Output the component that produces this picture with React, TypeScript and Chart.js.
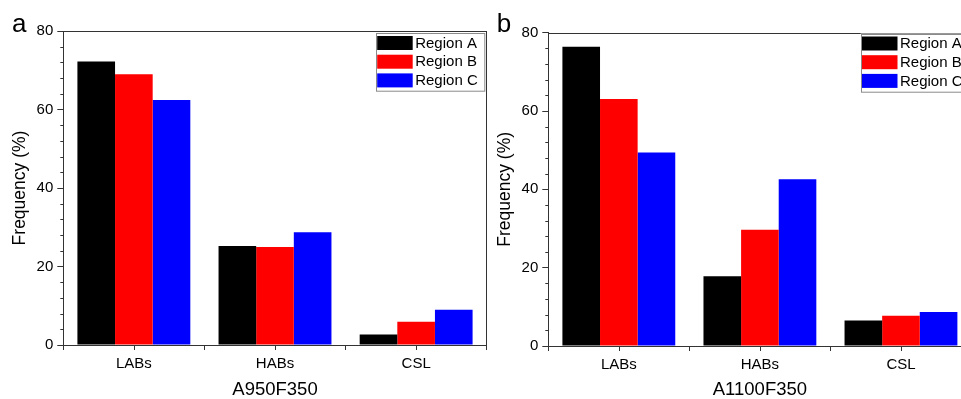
import React, { useEffect, useRef } from 'react';
import { Chart, registerables } from 'chart.js';

Chart.register(...registerables);

const FONT = '"Liberation Sans", Arial, Helvetica, sans-serif';
const AXIS = '#333333';

const categories = ['LABs', 'HABs', 'CSL'];
const seriesNames = ['Region A', 'Region B', 'Region C'];
const seriesColors = ['#000000', '#ff0000', '#0000ff'];

// Panel a: A950F350
const a950RegionA = [72.2, 25.2, 2.7];
const a950RegionB = [69.0, 25.0, 5.9];
const a950RegionC = [62.4, 28.7, 9.0];

// Panel b: A1100F350
const a1100RegionA = [76.4, 17.8, 6.5];
const a1100RegionB = [63.1, 29.7, 7.7];
const a1100RegionC = [49.4, 42.6, 8.7];

const yMin = 0;
const yMax = 80;
const yMajorStep = 20;
const yMinorStep = 4;
const yTitle = 'Frequency (%)';

Chart.defaults.font.family = FONT;

const decorPlugin = {
  id: 'decor',
  afterDraw(chart: any, _args: any, opts: any) {
    const { ctx, chartArea: ca, scales } = chart;
    const y = scales.y;
    const x = scales.x;
    ctx.save();
    ctx.strokeStyle = AXIS;
    ctx.lineWidth = 1;
    ctx.beginPath();
    // frame top & right
    ctx.moveTo(ca.left, Math.round(ca.top) + 0.5);
    ctx.lineTo(ca.right, Math.round(ca.top) + 0.5);
    ctx.moveTo(Math.round(ca.right) - 0.5, ca.top);
    ctx.lineTo(Math.round(ca.right) - 0.5, ca.bottom);
    // minor y ticks
    for (let v = yMin; v <= yMax; v += yMinorStep) {
      if (v % yMajorStep === 0) continue;
      const py = Math.round(y.getPixelForValue(v)) + 0.5;
      ctx.moveTo(ca.left - 3, py);
      ctx.lineTo(ca.left, py);
    }
    // x ticks at category centres
    chart.data.labels.forEach((_l: any, i: number) => {
      const px = Math.round(x.getPixelForValue(i)) + 0.5;
      ctx.moveTo(px, ca.bottom);
      ctx.lineTo(px, ca.bottom + 5);
    });
    ctx.stroke();

    // legend inside the plot area, top right
    const boxW = 108.3;
    const boxH = 57.7;
    const bx = ca.right - 2.7 - boxW;
    const by = ca.top + opts.legendTop;
    ctx.fillStyle = '#ffffff';
    ctx.fillRect(bx, by, boxW, boxH);
    ctx.strokeStyle = '#8a8a8a';
    ctx.strokeRect(Math.round(bx) + 0.5, Math.round(by) + 0.5, boxW, boxH);
    ctx.font = '15px ' + FONT;
    ctx.textBaseline = 'middle';
    ctx.textAlign = 'left';
    chart.data.datasets.forEach((ds: any, i: number) => {
      const sy = by + 3 + i * 18.7;
      ctx.fillStyle = ds.backgroundColor;
      ctx.fillRect(bx + 1.5, sy, 35.5, 14);
      ctx.fillStyle = '#000000';
      ctx.fillText(ds.label, bx + 39.5, sy + 7.5);
    });

    // panel letter
    ctx.font = '26px ' + FONT;
    ctx.textBaseline = 'alphabetic';
    ctx.fillStyle = '#000000';
    ctx.fillText(opts.letter, opts.letterX, opts.letterY);
    ctx.restore();
  },
};

type PanelProps = {
  letter: string;
  xTitle: string;
  series: number[][];
  left: number;
  width: number;
  padTop: number;
  padRight: number;
  yWidth: number;
  xHeight: number;
  yTitlePad: number;
  letterX: number;
  letterY: number;
  legendTop: number;
};

function Panel(p: PanelProps) {
  const ref = useRef<HTMLCanvasElement>(null);
  useEffect(() => {
    if (!ref.current) return;
    const chart = new Chart(ref.current, {
      type: 'bar',
      data: {
        labels: categories,
        datasets: p.series.map((vals, i) => ({
          label: seriesNames[i],
          data: vals,
          backgroundColor: seriesColors[i],
          borderWidth: 0,
          categoryPercentage: 0.8,
          barPercentage: 1.0,
        })),
      },
      options: {
        responsive: false,
        animation: false,
        devicePixelRatio: 1,
        layout: { padding: { top: p.padTop, right: p.padRight, bottom: 0, left: 0 } },
        plugins: {
          legend: { display: false },
          tooltip: { enabled: false },
          decor: { letter: p.letter, letterX: p.letterX, letterY: p.letterY, legendTop: p.legendTop },
        } as any,
        scales: {
          x: {
            grid: { display: true, drawOnChartArea: false, drawTicks: true, offset: true, tickLength: 5, color: AXIS },
            border: { display: true, color: AXIS, width: 1 },
            ticks: { color: '#000000', font: { size: 15, family: FONT }, padding: 5, maxRotation: 0 },
            title: {
              display: true,
              text: p.xTitle,
              color: '#000000',
              font: { size: 18.5, family: FONT, lineHeight: 1 },
              padding: 0,
            },
            afterFit: (s: any) => {
              s.height = p.xHeight;
            },
          },
          y: {
            min: yMin,
            max: yMax,
            grid: { display: true, drawOnChartArea: false, drawTicks: true, tickLength: 6, color: AXIS },
            border: { display: true, color: AXIS, width: 1 },
            ticks: { stepSize: yMajorStep, color: '#000000', font: { size: 15, family: FONT }, padding: 4 },
            title: {
              display: true,
              text: yTitle,
              color: '#000000',
              font: { size: 17.5, family: FONT, lineHeight: 1.2 },
              padding: { top: p.yTitlePad, bottom: 0 },
            },
            afterFit: (s: any) => {
              s.width = p.yWidth;
            },
          },
        },
      },
      plugins: [decorPlugin],
    });
    return () => chart.destroy();
  }, []);
  return (
    <canvas
      ref={ref}
      width={p.width}
      height={399}
      style={{ position: 'absolute', left: p.left, top: 0, width: p.width, height: 399 }}
    />
  );
}

export default function App() {
  return (
    <div
      style={{
        position: 'fixed',
        left: 0,
        top: 0,
        width: 961,
        height: 399,
        overflow: 'hidden',
        background: '#ffffff',
      }}
    >
      <Panel
        letter="a"
        xTitle="A950F350"
        series={[a950RegionA, a950RegionB, a950RegionC]}
        left={0}
        width={497}
        padTop={31}
        padRight={10.3}
        yWidth={63.3}
        xHeight={54}
        yTitlePad={10}
        letterX={12}
        letterY={32}
        legendTop={2}
      />
      <Panel
        letter="b"
        xTitle="A1100F350"
        series={[a1100RegionA, a1100RegionB, a1100RegionC]}
        left={490}
        width={495}
        padTop={32.7}
        padRight={13.5}
        yWidth={58.3}
        xHeight={53}
        yTitlePad={4.5}
        letterX={6.7}
        letterY={32.3}
        legendTop={0.8}
      />
    </div>
  );
}
